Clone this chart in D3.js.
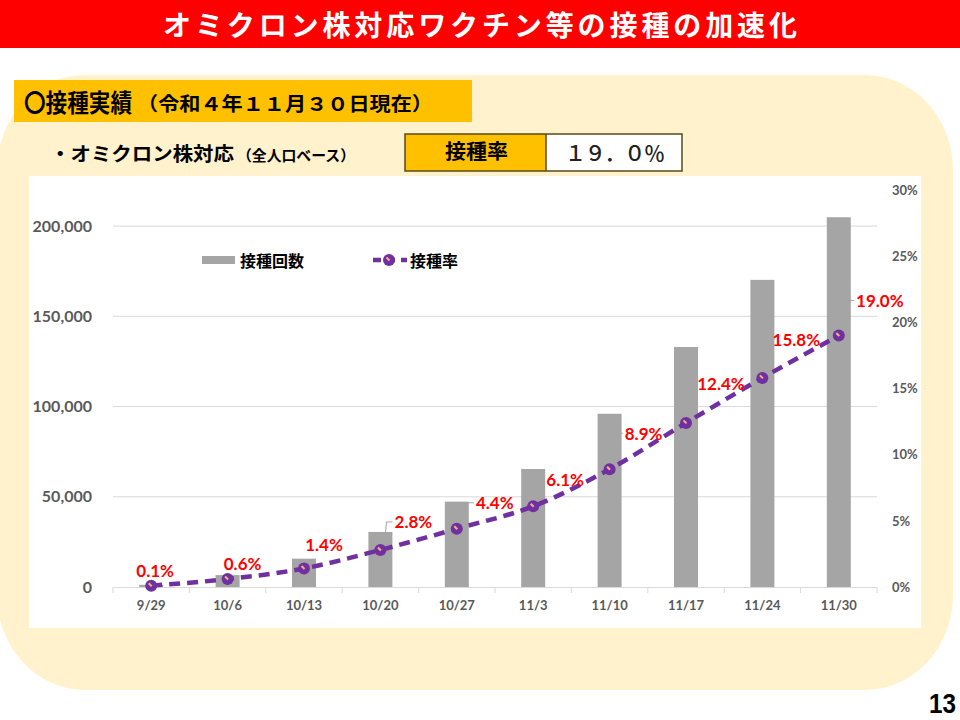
<!DOCTYPE html>
<html><head><meta charset="utf-8">
<script src="https://cdn.jsdelivr.net/npm/d3@7"></script>
<style>html,body{margin:0;padding:0;background:#fff;}svg{display:block;}</style>
</head><body>
<svg id="c" width="960" height="720"></svg>
<script>
// ---- data ----
const categories = ["9/29","10/6","10/13","10/20","10/27","11/3","11/10","11/17","11/24","11/30"];
const doses = [1200, 6600, 15700, 30500, 47300, 65400, 96000, 133000, 170200, 204900];
const rates = [0.1, 0.6, 1.4, 2.8, 4.4, 6.1, 8.9, 12.4, 15.8, 19.0]; // percent
const leftTicks = [0, 50000, 100000, 150000, 200000];
const rightTicks = [0, 5, 10, 15, 20, 25, 30];
const seriesNames = ["接種回数", "接種率"];
const titleText = "オミクロン株対応ワクチン等の接種の加速化";
const sectionMain = "〇接種実績";
const sectionSub = "（令和４年１１月３０日現在）";
const itemMain = "・オミクロン株対応";
const itemSub = "（全人口ベース）";
const rateHeader = "接種率";
const pageNo = "13";
// label placement offsets (layout, relative to marker)
const labelOffsets = [[4,-15],[15,-16],[20,-24],[33,-28],[38,-26],[32,-27],[34,-36],[35,-39],[34,-38],[41,-35]];
const leaderIdx = [3,4,6,9];

const JP = "'Noto Sans CJK JP','Noto Sans',sans-serif";
const NUM = "Lato,'Noto Sans',sans-serif";
const svg = d3.select("#c");

// background
svg.append("rect").attr("x",0).attr("y",0).attr("width",960).attr("height",720).attr("fill","#fff");
// title bar
svg.append("rect").attr("x",0).attr("y",0).attr("width",960).attr("height",48).attr("fill","#FF0000");
svg.append("text").attr("x",163).attr("y",24).attr("dominant-baseline","central")
  .attr("font-family",JP).attr("font-weight","bold").attr("font-size",28).attr("fill","#fff")
  .attr("textLength",634).attr("lengthAdjust","spacing").text(titleText);

// cream rounded panel
svg.append("rect").attr("x",-3).attr("y",75).attr("width",956).attr("height",615).attr("rx",88).attr("ry",95).attr("fill","#FFF2CC");

// section label box
svg.append("rect").attr("x",14).attr("y",80).attr("width",458).attr("height",42).attr("fill","#FFC000");
svg.append("text").attr("x",24).attr("y",101).attr("dominant-baseline","central")
  .attr("font-family",JP).attr("font-weight","bold").attr("font-size",25).attr("fill","#000")
  .attr("textLength",108).attr("lengthAdjust","spacingAndGlyphs").text(sectionMain);
svg.append("text").attr("x",137).attr("y",102).attr("dominant-baseline","central")
  .attr("font-family",JP).attr("font-weight","bold").attr("font-size",19).attr("fill","#000")
  .attr("textLength",296).attr("lengthAdjust","spacingAndGlyphs").text(sectionSub);

// item line
svg.append("text").attr("x",50).attr("y",152).attr("dominant-baseline","central")
  .attr("font-family",JP).attr("font-weight","bold").attr("font-size",19).attr("fill","#000")
  .attr("textLength",184).attr("lengthAdjust","spacingAndGlyphs").text(itemMain);
svg.append("text").attr("x",237).attr("y",154).attr("dominant-baseline","central")
  .attr("font-family",JP).attr("font-weight","bold").attr("font-size",15).attr("fill","#000")
  .attr("textLength",118).attr("lengthAdjust","spacingAndGlyphs").text(itemSub);

// rate table
const toFull = s => s.replace(/[0-9.%]/g, ch => ch === "." ? "．" : ch === "%" ? "％" : String.fromCharCode(ch.charCodeAt(0) + 0xFEE0));
svg.append("rect").attr("x",405).attr("y",134).attr("width",141).attr("height",37).attr("fill","#FFC000");
svg.append("rect").attr("x",546).attr("y",134).attr("width",136).attr("height",37).attr("fill","#fff");
svg.append("rect").attr("x",405).attr("y",134).attr("width",277).attr("height",37).attr("fill","none").attr("stroke","#5a4a1a").attr("stroke-width",1.5);
svg.append("line").attr("x1",546).attr("x2",546).attr("y1",134).attr("y2",171).attr("stroke","#5a4a1a").attr("stroke-width",1.5);
svg.append("text").attr("x",445).attr("y",150).attr("dominant-baseline","central")
  .attr("font-family",JP).attr("font-weight","bold").attr("font-size",20).attr("fill","#000")
  .attr("textLength",63).attr("lengthAdjust","spacingAndGlyphs").text(rateHeader);
svg.append("text").attr("x",565).attr("y",152).attr("dominant-baseline","central")
  .attr("font-family",JP).attr("font-weight","500").attr("font-size",21).attr("fill","#222")
  .attr("textLength",100).attr("lengthAdjust","spacing").text(toFull(rates[rates.length-1].toFixed(1) + "%"));

// chart area
svg.append("rect").attr("x",29).attr("y",176).attr("width",892).attr("height",452).attr("fill","#fff");

const x = d3.scaleBand().domain(categories).range([113,877]).paddingInner(0.686).paddingOuter(0.343);
const cx = c => x(c) + x.bandwidth()/2;
const yL = d3.scaleLinear().domain([0,220000]).range([587,190]);
const yR = d3.scaleLinear().domain([0,30]).range([587,190]);

// gridlines
svg.append("g").selectAll("line").data(leftTicks.filter(d=>d>0)).join("line")
  .attr("x1",113).attr("x2",877).attr("y1",d=>yL(d)).attr("y2",d=>yL(d))
  .attr("stroke","#D9D9D9").attr("stroke-width",1);

// left axis
const axL = svg.append("g").attr("transform","translate(113,0)")
  .call(d3.axisLeft(yL).tickValues(leftTicks).tickFormat(d3.format(",")).tickSize(0).tickPadding(21));
axL.select(".domain").remove();
axL.selectAll("text").attr("font-family",NUM).attr("font-weight","bold").attr("font-size",16).attr("fill","#595959");

// right axis
const axR = svg.append("g").attr("transform","translate(877,0)")
  .call(d3.axisRight(yR).tickValues(rightTicks).tickFormat(d=>d+"%").tickSize(0).tickPadding(15));
axR.select(".domain").remove();
axR.selectAll("text").attr("font-family",NUM).attr("font-weight","bold").attr("font-size",13).attr("fill","#595959");

// bars
svg.append("g").selectAll("rect").data(doses).join("rect")
  .attr("x",(d,i)=>x(categories[i])).attr("width",x.bandwidth())
  .attr("y",d=>yL(d)).attr("height",d=>yL(0)-yL(d)).attr("fill","#A5A5A5");

// x axis
const axB = svg.append("g").attr("transform","translate(0,587)")
  .call(d3.axisBottom(x).tickSize(0).tickPadding(14));
axB.select(".domain").attr("stroke","#D9D9D9").attr("stroke-width",1);
axB.selectAll("text").attr("font-family",NUM).attr("font-weight","bold").attr("font-size",13).attr("fill","#595959");
const step = x.step();
svg.append("g").selectAll("line").data(d3.range(categories.length+1)).join("line")
  .attr("x1",i=>113+i*step).attr("x2",i=>113+i*step).attr("y1",587).attr("y2",593)
  .attr("stroke","#D9D9D9").attr("stroke-width",1);

// line
const line = d3.line().x((d,i)=>cx(categories[i])).y(d=>yR(d)).curve(d3.curveMonotoneX);
svg.append("path").datum(rates).attr("d",line).attr("fill","none")
  .attr("stroke","#7030A0").attr("stroke-width",4.5).attr("stroke-dasharray","11,7").attr("stroke-linecap","butt");

function marker(g, px, py){
  g.append("circle").attr("cx",px).attr("cy",py).attr("r",6).attr("fill","#7030A0");
  g.append("line").attr("x1",px-2.5).attr("y1",py-2.5).attr("x2",px+0.5).attr("y2",py+0.5)
    .attr("stroke","#F4B183").attr("stroke-width",2);
}
const mk = svg.append("g");
rates.forEach((r,i)=>marker(mk, cx(categories[i]), yR(r)));

// data labels
const lg = svg.append("g");
rates.forEach((r,i)=>{
  const px = cx(categories[i]) + labelOffsets[i][0];
  const py = yR(r) + labelOffsets[i][1];
  const t = lg.append("text").attr("x",px).attr("y",py).attr("text-anchor","middle").attr("dominant-baseline","central")
    .attr("font-family",NUM).attr("font-weight","bold").attr("font-size",17).attr("fill","#FF0000")
    .text(r.toFixed(1)+"%");
  if (leaderIdx.includes(i)) {
    const w = t.node().getComputedTextLength();
    const lx = px - w/2 - 2;
    lg.append("path").attr("d", i===3 ? `M${lx-7},${py+10} L${lx-6},${py} L${lx},${py}` : `M${lx-7},${py} L${lx},${py}`)
      .attr("fill","none").attr("stroke","#A5A5A5").attr("stroke-width",1);
  }
});

// legend
const lgd = svg.append("g");
lgd.append("rect").attr("x",202).attr("y",256).attr("width",33).attr("height",8).attr("fill","#A5A5A5");
lgd.append("text").attr("x",240).attr("y",260).attr("dominant-baseline","central")
  .attr("font-family",JP).attr("font-weight","bold").attr("font-size",16).attr("fill","#000").text(seriesNames[0]);
lgd.append("line").attr("x1",373).attr("x2",407).attr("y1",260).attr("y2",260)
  .attr("stroke","#7030A0").attr("stroke-width",4.5).attr("stroke-dasharray","8,6");
marker(lgd, 389, 260);
lgd.append("text").attr("x",410).attr("y",260).attr("dominant-baseline","central")
  .attr("font-family",JP).attr("font-weight","bold").attr("font-size",16).attr("fill","#000").text(seriesNames[1]);

// page number
svg.append("text").attr("x",929).attr("y",704).attr("dominant-baseline","central")
  .attr("font-family","'Liberation Sans',Arial,sans-serif").attr("font-weight","bold").attr("font-size",27).attr("fill","#000")
  .attr("textLength",27).attr("lengthAdjust","spacingAndGlyphs").text(pageNo);
</script>
</body></html>
